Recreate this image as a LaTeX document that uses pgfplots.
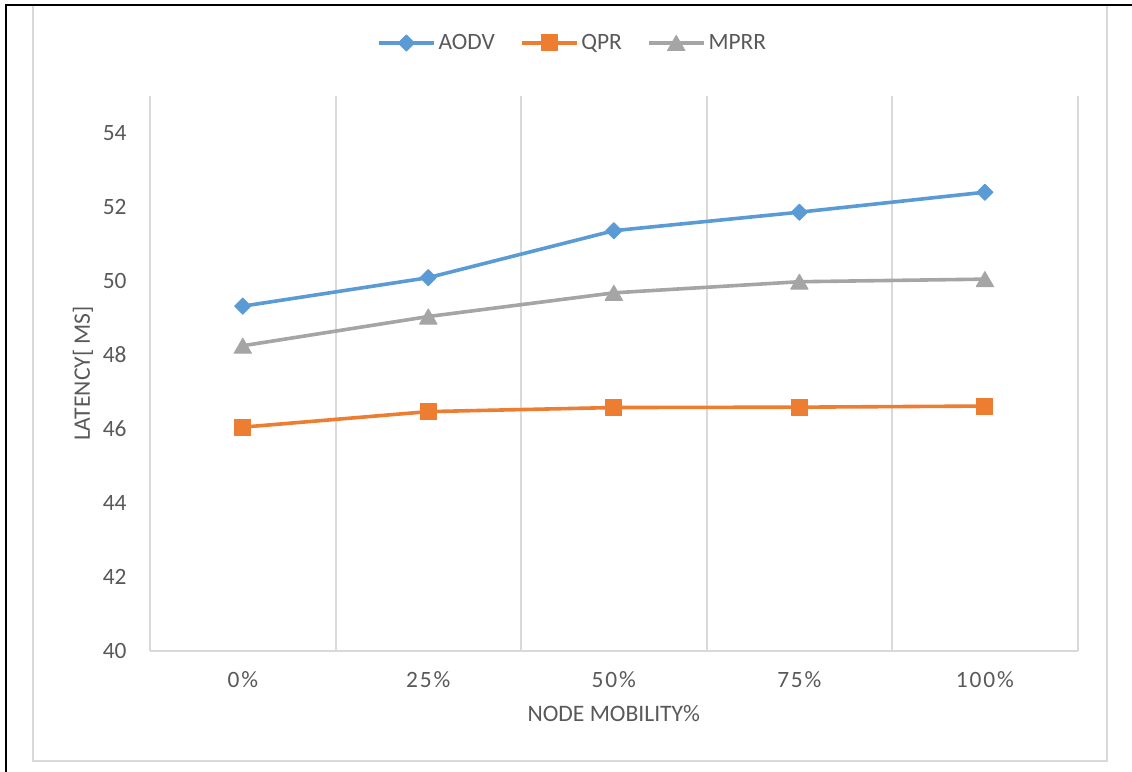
\documentclass[border=0pt]{standalone}
\usepackage{fontspec}
\setmainfont{Carlito}
\newfontfamily\spacedfont[LetterSpace=8]{Carlito}
\usepackage{pgfplots}
\pgfplotsset{compat=1.18}

\definecolor{aodv}{HTML}{5B9BD5}
\definecolor{qpr}{HTML}{ED7D31}
\definecolor{mprr}{HTML}{A5A5A5}
\definecolor{gridgray}{HTML}{D9D9D9}
\definecolor{labelgray}{HTML}{595959}

\begin{document}
\begin{tikzpicture}
% page extent and frames
\path[use as bounding box] (0,0) rectangle (566pt,386pt);
\draw[gridgray, line width=1pt] (16.5pt,5.35pt) rectangle (553.5pt,383.5pt);
\draw[black, line width=1pt] (3pt,0pt) -- (3pt,383.5pt) -- (566pt,383.5pt);

\begin{axis}[
  at={(75pt,60.5pt)}, anchor=south west,
  scale only axis, width=463.85pt, height=277.5pt,
  xmin=-0.5, xmax=4.5, ymin=40, ymax=55,
  xtick={0,1,2,3,4},
  xticklabels={0\%,25\%,50\%,75\%,100\%},
  ytick={40,42,...,54},
  minor xtick={-0.5,0.5,1.5,2.5,3.5,4.5},
  xminorgrids,
  minor grid style={gridgray, line width=1pt},
  major tick length=0pt, minor tick length=0pt,
  axis x line*=bottom, axis y line*=left,
  x axis line style={gridgray, line width=1pt},
  y axis line style={draw=none},
  /pgf/number format/assume math mode=true,
  yticklabel style={font=\fontsize{11.7pt}{14pt}\selectfont, text=labelgray, anchor=east, inner sep=0pt, xshift=-11.5pt},
  xticklabel style={font=\fontsize{11.7pt}{14pt}\selectfont\spacedfont, text=labelgray, anchor=north, inner sep=0pt, yshift=-10.3pt},
  xlabel={NODE MOBILITY\%},
  ylabel={LATENCY[ MS]},
  every axis x label/.style={at={(axis description cs:0.5,0)}, anchor=center, yshift=-31.25pt, font=\fontsize{11.8pt}{14pt}\selectfont, text=labelgray},
  every axis y label/.style={at={(axis description cs:0,0.5)}, rotate=90, anchor=center, yshift=33.5pt, font=\fontsize{11.8pt}{14pt}\selectfont, text=labelgray},
  legend columns=3,
  legend style={at={(0.4560,1.0955)}, anchor=center, draw=none, fill=none,
    font=\fontsize{11.7pt}{14pt}\selectfont, text=labelgray,
    nodes={inner sep=1.5pt},
    /tikz/every even column/.append style={column sep=11pt}},
  legend image code/.code={\draw[#1, mark repeat=2, mark phase=2] plot coordinates {(0pt,0pt) (13.75pt,0pt) (27.5pt,0pt)};},
  line join=round,
]
\addplot[aodv, line width=1.8pt, mark=square*, mark size=2.85pt,
  mark options={rotate=45, line width=0.5pt, fill=aodv}]
  coordinates {(0,49.32) (1,50.09) (2,51.36) (3,51.86) (4,52.40)};
\addlegendentry{AODV}
\addplot[qpr, line width=1.8pt, mark=square*, mark size=4.0pt,
  mark options={line width=0.5pt, fill=qpr}]
  coordinates {(0,46.05) (1,46.47) (2,46.58) (3,46.59) (4,46.62)};
\addlegendentry{QPR}
\addplot[mprr, line width=1.8pt, mark=triangle*, mark size=5.0pt,
  mark options={line width=0.5pt, fill=mprr, yshift=-1.25pt}]
  coordinates {(0,48.25) (1,49.04) (2,49.68) (3,49.98) (4,50.05)};
\addlegendentry{MPRR}
\end{axis}
\end{tikzpicture}
\end{document}
